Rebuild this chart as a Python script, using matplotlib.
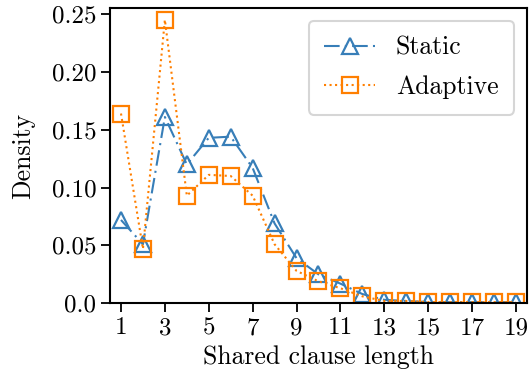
import matplotlib as mpl
mpl.use('Agg')
import matplotlib.pyplot as plt

# shared clause length distribution
lengths = list(range(1, 20))
static = [0.072, 0.051, 0.161, 0.120, 0.143, 0.144, 0.117, 0.069, 0.039, 0.025,
          0.017, 0.008, 0.003, 0.002, 0.001, 0.001, 0.001, 0.001, 0.001]
adaptive = [0.164, 0.047, 0.245, 0.093, 0.111, 0.110, 0.093, 0.051, 0.028, 0.019,
            0.013, 0.006, 0.002, 0.002, 0.001, 0.001, 0.001, 0.001, 0.001]
xticks = list(range(1, 20, 2))
yticks = [0.0, 0.05, 0.10, 0.15, 0.20, 0.25]
yticklabels = ['0.0', '0.05', '0.10', '0.15', '0.20', '0.25']

plt.rcParams['font.family'] = 'serif'
plt.rcParams['font.serif'] = ['cmr10']
plt.rcParams['mathtext.fontset'] = 'cm'
plt.rcParams['axes.linewidth'] = 1.5

fig = plt.figure(figsize=(5.29, 3.81), dpi=100)
ax = fig.add_axes([0.208, 0.204, 0.788, 0.775])

ax.plot(lengths, static, linestyle=(0, (7.5, 2.5, 1, 2.5)), color='#377eb8', marker='^',
        markersize=11.5, fillstyle='none', markeredgewidth=1.6, linewidth=1.5,
        label='Static')
ax.plot(lengths, adaptive, linestyle=':', color='#ff7f00', marker='s',
        markersize=11.5, fillstyle='none', markeredgewidth=1.6, linewidth=1.5,
        label='Adaptive')

ax.set_xlim(0.5, 19.5)
ax.set_ylim(0, 0.2552)
ax.set_xticks(xticks)
ax.set_yticks(yticks)
ax.set_yticklabels(yticklabels)
ax.tick_params(labelsize=18, length=6.5, width=1.3)
ax.set_xlabel('Shared clause length', fontsize=18.5)
ax.set_ylabel('Density', fontsize=18.5, labelpad=12)
leg = ax.legend(loc='upper right', fontsize=18.5, frameon=True,
                labelspacing=0.6, borderpad=0.6)
leg.get_frame().set_linewidth(1.5)

plt.savefig('out.png', dpi=100)
